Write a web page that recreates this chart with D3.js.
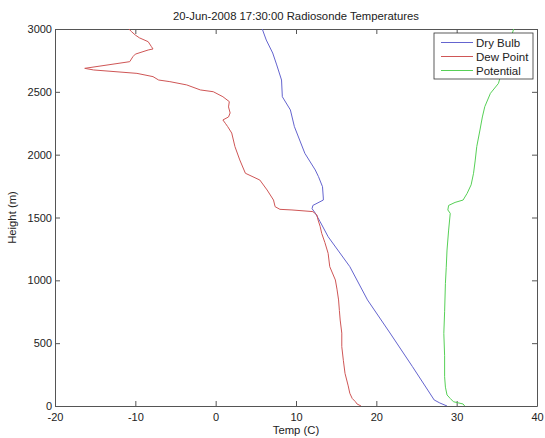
<!DOCTYPE html>
<html>
<head>
<meta charset="utf-8">
<script src="https://cdn.jsdelivr.net/npm/d3@7"></script>
<style>
  body { margin: 0; background: #fff; }
  text { font-family: "Liberation Sans", Arial, sans-serif; fill: #222; }
</style>
</head>
<body>
<svg id="chart" width="545" height="438"></svg>
<script>
// Series data (height in m, temperature in C)
const dryHeight = [0, 24, 48, 127, 313, 581, 844, 1109, 1347, 1467, 1535, 1570, 1596, 1639, 1655, 1745, 1825, 1878, 2011, 2223, 2356, 2461, 2594, 2714, 2809, 2912, 3000];
const dryTemp   = [28.8, 27.9, 27.2, 26.4, 24.5, 21.7, 18.9, 16.7, 14.0, 13.0, 12.4, 12.0, 12.1, 13.4, 13.4, 13.3, 12.8, 12.4, 11.1, 9.8, 9.3, 8.3, 8.2, 7.6, 7.1, 6.3, 5.8];

const dewHeight = [0, 16, 34, 60, 101, 160, 260, 360, 472, 580, 684, 760, 844, 930, 1003, 1109, 1215, 1300, 1374, 1430, 1480, 1520, 1547, 1560, 1565, 1586, 1639, 1719, 1798, 1852, 1958, 2064, 2172, 2223, 2250, 2276, 2300, 2332, 2380, 2422, 2461, 2501, 2515, 2555, 2581, 2594, 2621, 2647, 2674, 2687, 2740, 2780, 2800, 2833, 2841, 2860, 2899, 2930, 2952, 2980, 3000];
const dewTemp   = [18.1, 17.6, 17.4, 17.0, 16.7, 16.5, 16.1, 15.9, 15.7, 15.7, 15.5, 15.4, 15.3, 15.1, 14.9, 14.2, 14.0, 13.6, 13.2, 13.0, 12.75, 12.6, 12.1, 9.5, 8.0, 7.4, 7.2, 6.4, 5.5, 3.7, 3.0, 2.4, 2.0, 1.5, 1.2, 0.9, 1.6, 1.8, 1.6, 1.7, 0.9, -0.3, -1.9, -3.6, -5.7, -7.1, -7.8, -9.8, -15.2, -16.3, -10.7, -10.3, -10.0, -8.4, -7.8, -8.0, -8.4, -9.5, -10.0, -10.5, -10.8];

const potHeight = [0, 16, 34, 60, 88, 150, 233, 400, 578, 750, 976, 1100, 1241, 1400, 1533, 1560, 1596, 1620, 1639, 1692, 1760, 1852, 1950, 2064, 2196, 2300, 2382, 2488, 2567, 2700, 2806, 2900, 3000];
const potTemp   = [31.0, 30.8, 29.6, 29.2, 28.8, 28.6, 28.5, 28.5, 28.4, 28.5, 28.6, 28.7, 28.8, 29.0, 29.2, 28.9, 29.0, 29.8, 30.8, 31.3, 31.8, 32.1, 32.3, 32.5, 32.9, 33.2, 33.5, 34.2, 35.2, 35.8, 36.2, 36.6, 37.1];

const seriesNames = ["Dry Bulb", "Dew Point", "Potential"];
const seriesColors = ["#6464cf", "#cf5656", "#56d056"];

const xTicks = [-20, -10, 0, 10, 20, 30, 40];
const yTicks = [0, 500, 1000, 1500, 2000, 2500, 3000];

const margin = { top: 29, right: 8, bottom: 32, left: 55 };
const width = 545 - margin.left - margin.right;
const height = 438 - margin.top - margin.bottom;

const svg = d3.select("#chart");
const g = svg.append("g").attr("transform", `translate(${margin.left},${margin.top})`);

const x = d3.scaleLinear().domain([-20, 40]).range([0, width]);
const y = d3.scaleLinear().domain([0, 3000]).range([height, 0]);

svg.append("defs").append("clipPath").attr("id", "clip")
  .append("rect").attr("width", width).attr("height", height);

// plain number labels, ascii minus, no thousands comma
const plain = d => String(d);

// axes, ticks drawn inside the box like matlab
const axisColor = "#555";
const styleAxis = (sel) => {
  sel.select(".domain").attr("stroke", axisColor);
  sel.selectAll(".tick line").attr("stroke", axisColor);
  sel.selectAll(".tick text").attr("font-size", 11).attr("fill", "#222")
    .attr("font-family", "Liberation Sans, Arial, sans-serif");
};

g.append("g").attr("transform", `translate(0,${height})`)
  .call(d3.axisBottom(x).tickValues(xTicks).tickFormat(plain).tickSizeInner(-5).tickSizeOuter(0).tickPadding(7))
  .call(styleAxis);
g.append("g")
  .call(d3.axisTop(x).tickValues(xTicks).tickSizeInner(-5).tickSizeOuter(0).tickFormat(""))
  .call(styleAxis);
g.append("g")
  .call(d3.axisLeft(y).tickValues(yTicks).tickFormat(plain).tickSizeInner(-5).tickSizeOuter(0).tickPadding(3))
  .call(styleAxis);
g.append("g").attr("transform", `translate(${width},0)`)
  .call(d3.axisRight(y).tickValues(yTicks).tickSizeInner(-5).tickSizeOuter(0).tickFormat(""))
  .call(styleAxis);

// series lines
const series = [
  { name: seriesNames[0], color: seriesColors[0], pts: dryHeight.map((h, i) => [dryTemp[i], h]) },
  { name: seriesNames[1], color: seriesColors[1], pts: dewHeight.map((h, i) => [dewTemp[i], h]) },
  { name: seriesNames[2], color: seriesColors[2], pts: potHeight.map((h, i) => [potTemp[i], h]) }
];

const line = d3.line().x(d => x(d[0])).y(d => y(d[1]));

g.append("g").attr("clip-path", "url(#clip)")
  .selectAll("path")
  .data(series)
  .join("path")
  .attr("fill", "none")
  .attr("stroke", d => d.color)
  .attr("stroke-width", 1)
  .attr("d", d => line(d.pts));

// title and axis labels
svg.append("text")
  .attr("x", margin.left + width / 2).attr("y", 20)
  .attr("text-anchor", "middle").attr("font-size", 11.3)
  .text("20-Jun-2008 17:30:00 Radiosonde Temperatures");

svg.append("text")
  .attr("x", margin.left + width / 2).attr("y", 434)
  .attr("text-anchor", "middle").attr("font-size", 11.3)
  .text("Temp (C)");

svg.append("text")
  .attr("transform", `translate(16,${margin.top + height / 2}) rotate(-90)`)
  .attr("text-anchor", "middle").attr("font-size", 11.3)
  .text("Height (m)");

// legend
const legend = svg.append("g").attr("transform", "translate(434,33)");
legend.append("rect")
  .attr("width", 99).attr("height", 46)
  .attr("fill", "#fff").attr("stroke", "#333").attr("stroke-width", 0.8);

const item = legend.selectAll("g.item")
  .data(series)
  .join("g")
  .attr("class", "item")
  .attr("transform", (d, i) => `translate(0,${9.5 + i * 14})`);

item.append("line")
  .attr("x1", 7).attr("x2", 39)
  .attr("stroke", d => d.color).attr("stroke-width", 1);

item.append("text")
  .attr("x", 42).attr("y", 4)
  .attr("font-size", 11.5)
  .text(d => d.name);
</script>
</body>
</html>
